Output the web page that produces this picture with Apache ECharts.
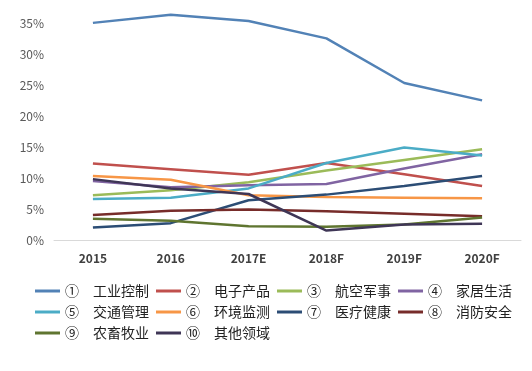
<!DOCTYPE html>
<html><head><meta charset="utf-8">
<script src="https://cdn.jsdelivr.net/npm/echarts@6/dist/echarts.min.js"></script>
<style>html,body{margin:0;padding:0;background:#fff}#c{width:532px;height:371px}</style>
</head><body><div id="c"></div>
<script>
const categories = ['2015','2016','2017E','2018F','2019F','2020F'];
const seriesNames = ['① 工业控制','② 电子产品','③ 航空军事','④ 家居生活','⑤ 交通管理','⑥ 环境监测','⑦ 医疗健康','⑧ 消防安全','⑨ 农畜牧业','⑩ 其他领域'];
const s1 = [35.1, 36.4, 35.4, 32.6, 25.4, 22.6];
const s2 = [12.4, 11.5, 10.6, 12.5, 10.7, 8.8];
const s3 = [7.3, 8.1, 9.4, 11.3, 13.0, 14.7];
const s4 = [9.6, 8.6, 8.9, 9.1, 11.6, 13.9];
const s5 = [6.7, 6.9, 8.4, 12.5, 15.0, 13.7];
const s6 = [10.4, 9.8, 7.3, 7.0, 6.9, 6.8];
const s7 = [2.1, 2.8, 6.5, 7.4, 8.8, 10.4];
const s8 = [4.1, 4.8, 5.0, 4.7, 4.3, 3.9];
const s9 = [3.5, 3.2, 2.3, 2.2, 2.6, 3.7];
const s10 = [9.9, 8.4, 7.5, 1.6, 2.6, 2.7];
const yTicks = [0, 5, 10, 15, 20, 25, 30, 35, 40];
const allData = [s1,s2,s3,s4,s5,s6,s7,s8,s9,s10];
const colors = ['#5282B6','#C0504D','#9BBB59','#8064A2','#4BACC6','#F79646','#2C4D75','#772C2A','#5F7530','#3F3656'];

const chart = echarts.init(document.getElementById('c'));
const font = '"Noto Sans CJK SC", "Noto Sans", sans-serif';
const columns = [[0,4,8],[1,5,9],[2,6],[3,7]];
const colLeft = [35, 156, 277, 398];
const legends = columns.map((idx, i) => ({
  orient: 'vertical',
  left: colLeft[i],
  top: 284,
  icon: 'rect',
  itemWidth: 25,
  itemHeight: 3,
  itemGap: 7,
  padding: 0,
  data: idx.map(k => seriesNames[k]),
  formatter: function (name) {
    const p = name.split(' ');
    return '{n|' + p[0] + '}{t|' + p[1] + '}';
  },
  textStyle: {
    fontFamily: font, fontSize: 14, color: '#222',
    padding: [0,0,0,0],
    rich: {
      n: { width: 28, fontSize: 14, fontFamily: font, color: '#222', lineHeight: 14 },
      t: { fontSize: 14, fontFamily: font, color: '#222', lineHeight: 14 }
    }
  }
}));

chart.setOption({
  animation: false,
  color: colors,
  textStyle: { fontFamily: font },
  grid: { left: 54, right: 11, top: -7.5, bottom: 130.5, containLabel: false, outerBoundsMode: 'none' },
  legend: legends,
  xAxis: {
    type: 'category',
    data: categories,
    boundaryGap: true,
    axisLine: { show: true, lineStyle: { color: '#D9D9D9', width: 1 } },
    axisTick: { show: false },
    axisLabel: { margin: 12, fontSize: 12, fontWeight: 'bold', color: '#404040', fontFamily: font }
  },
  yAxis: {
    type: 'value',
    min: yTicks[0], max: yTicks[yTicks.length-1], interval: 5,
    axisLine: { show: false },
    axisTick: { show: false },
    splitLine: { show: false },
    axisLabel: { margin: 10, fontSize: 12, color: '#595959', fontFamily: font, formatter: v => v + '%' }
  },
  series: allData.map((d, i) => ({
    name: seriesNames[i],
    type: 'line',
    data: d,
    symbol: 'none',
    lineStyle: { width: 2.5, color: colors[i] },
    itemStyle: { color: colors[i] }
  }))
});
</script></body></html>
